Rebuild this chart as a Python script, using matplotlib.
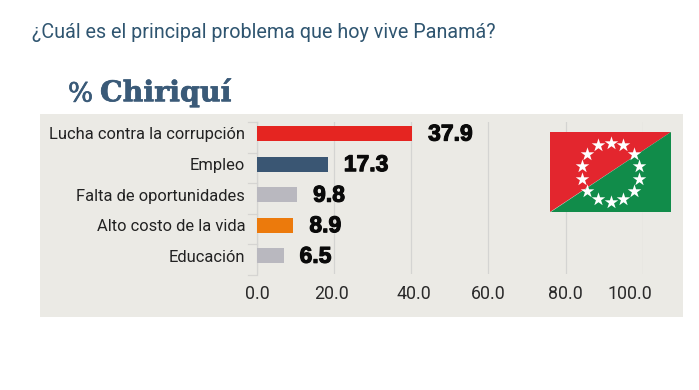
import numpy as np
import matplotlib
matplotlib.use("Agg")
import matplotlib.pyplot as plt
import matplotlib.patheffects as pe
from matplotlib.patches import Rectangle, Polygon
from matplotlib.transforms import ScaledTranslation

categories = ["Lucha contra la corrupción", "Empleo", "Falta de oportunidades",
              "Alto costo de la vida", "Educación"]
values = [37.9, 17.3, 9.8, 8.9, 6.5]
value_labels = ["37.9", "17.3", "9.8", "8.9", "6.5"]
bar_colors = ["#e52521", "#3a5673", "#b9b8bf", "#ec7a0c", "#b9b8bf"]
# The reference's axis is not true to its bars: the 37.9 bar reaches the line
# labelled 40.0. Gridlines are placed where they appear relative to the bars.
grid_positions = [0, 18.8, 37.7, 56.5, 75.4, 94.3]
x_tick_labels = ["0.0", "20.0", "40.0", "60.0", "80.0", "100.0"]
title = "¿Cuál es el principal problema que hoy vive Panamá?"
subtitle_pct = "%"
subtitle = "Chiriquí"

W, H = 699, 390
fig = plt.figure(figsize=(W / 100, H / 100), dpi=100, facecolor="white")

def fx(px): return px / W
def fy(py): return 1 - py / H

PANEL = "#ebeae5"
BLUE = "#3a5a78"
fig.patches.append(Rectangle((fx(40), fy(317)), 643 / W, 203 / H, transform=fig.transFigure,
                             facecolor=PANEL, edgecolor="none", zorder=-1))

fig.text(fx(32), fy(32), title, fontsize=14.2, color="#2f5570", family="Roboto",
         va="center", ha="left")
stroke = [pe.withStroke(linewidth=0.5, foreground=BLUE)]
fig.text(fx(68), fy(94), subtitle_pct, fontsize=19, color=BLUE, family="DejaVu Serif",
         va="center", ha="left", path_effects=stroke)
fig.text(fx(100), fy(93), subtitle, fontsize=20.5, color=BLUE, family="DejaVu Serif",
         weight="bold", va="center", ha="left", path_effects=stroke)

ax = fig.add_axes([fx(257), fy(274), (643 - 257) / W, (274 - 122) / H])
ax.patch.set_alpha(0)
y = np.arange(len(categories))
ax.barh(y, values, height=0.49, color=bar_colors, zorder=3)
ax.set_xlim(0, 94.3)
ax.set_ylim(4.6, -0.376)
ax.set_xticks(grid_positions)
ax.set_xticklabels(x_tick_labels, fontsize=12.8, color="#2a2a2a", family="Roboto")
ax.set_yticks(y)
ax.set_yticklabels(categories, fontsize=11.9, color="#222222", family="Roboto")
ax.tick_params(axis="x", length=0, pad=8)
ax.tick_params(axis="y", length=0, pad=8.5)
# tick labels sit slightly off their gridlines in the reference (offsets in px)
label_shift_px = [0, -2, 3, 0, 0, -13]
for lab, dx in zip(ax.get_xticklabels(), label_shift_px):
    lab.set_transform(lab.get_transform() + ScaledTranslation(dx / 100, 0, fig.dpi_scale_trans))
# short separators between categories, to the left of the axis
for b in np.arange(len(categories) + 1) - 0.376:
    ax.plot([-2.2, 0], [b, b], color="#d6d5d2", lw=0.9, clip_on=False, zorder=1)
ax.grid(axis="x", color="#d4d4d2", lw=0.9, zorder=1)
ax.set_axisbelow(True)
for s in ("top", "right", "bottom"):
    ax.spines[s].set_visible(False)
ax.spines["left"].set_color("#d4d4d2")
ax.spines["left"].set_linewidth(0.9)

for yi, v, lab in zip(y, values, value_labels):
    ax.text(v + 3.9, yi + 0.02, lab, fontsize=16.5, weight="bold", family="Liberation Sans",
            color="#0a0a0a", va="center", ha="left", zorder=4,
            path_effects=[pe.withStroke(linewidth=0.8, foreground="#0a0a0a")])

# flag
flag = fig.add_axes([fx(550), fy(212.5), 121 / W, 80.5 / H])
flag.set_xlim(0, 1)
flag.set_ylim(0, 1)
flag.axis("off")
flag.add_patch(Polygon([(0, 0), (0, 1), (1, 1)], facecolor="#e3262e", edgecolor="none"))
flag.add_patch(Polygon([(0, 0), (1, 1), (1, 0)], facecolor="#118c4a", edgecolor="none"))
ang = np.deg2rad(90 + 360 / 14 * np.arange(14))
flag.scatter(0.5 + 29.7 / 121 * np.cos(ang), 0.5 + 29.7 / 80.5 * np.sin(ang),
             marker="*", s=105, color="white", linewidths=0, zorder=3)

fig.savefig("out.png", dpi=100, facecolor="white")
